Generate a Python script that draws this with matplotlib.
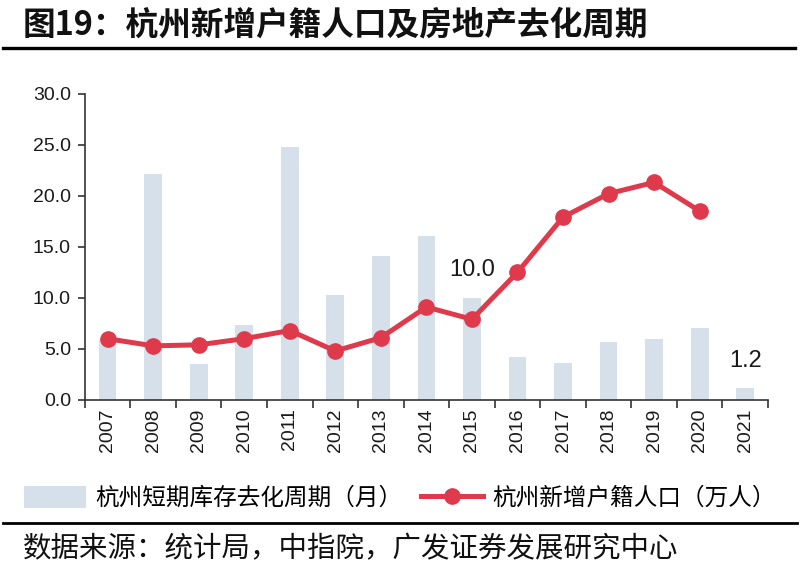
import matplotlib
matplotlib.use("Agg")
import matplotlib.pyplot as plt
from matplotlib.lines import Line2D
from matplotlib.patches import Patch
import numpy as np

years = ["2007", "2008", "2009", "2010", "2011", "2012", "2013", "2014",
         "2015", "2016", "2017", "2018", "2019", "2020", "2021"]
destock_months = [5.9, 22.1, 3.5, 7.3, 24.8, 10.3, 14.1, 16.1,
                  10.0, 4.2, 3.6, 5.7, 6.0, 7.0, 1.2]
new_hukou = [6.0, 5.3, 5.4, 6.0, 6.8, 4.8, 6.1, 9.1,
             7.9, 12.5, 17.9, 20.2, 21.3, 18.5]
yticks = [0, 5, 10, 15, 20, 25, 30]

title = "图19：杭州新增户籍人口及房地产去化周期"
bar_label = "杭州短期库存去化周期（月）"
line_label = "杭州新增户籍人口（万人）"
source = "数据来源：统计局，中指院，广发证券发展研究中心"

CJK = ["Noto Sans CJK SC", "DejaVu Sans"]
NUM = ["Liberation Sans", "Noto Sans CJK SC"]
plt.rcParams["font.family"] = NUM

bar_color = "#D5E0EB"
line_color = "#DF3A4B"

fig = plt.figure(figsize=(8.0, 5.72), dpi=100)
ax = fig.add_axes([0.106, 0.3007, 0.854, 0.5358])

x = np.arange(len(years))
ax.bar(x, destock_months, width=0.39, color=bar_color, zorder=1)
ax.plot(x[:len(new_hukou)], new_hukou, color=line_color, lw=3.6,
        marker="o", markersize=11, markeredgecolor=line_color, zorder=3)

ax.set_xlim(-0.5, len(years) - 0.5)
ax.set_ylim(0, 30)
ax.set_yticks(yticks)
ax.set_yticklabels([f"{v:.1f}" for v in yticks], fontsize=14, color="#1a1a1a")
ax.set_xticks(x)
ax.set_xticklabels(years, rotation=90, fontsize=14, color="#1a1a1a")
ax.set_xticks(np.arange(-0.5, len(years)), minor=True)
ax.tick_params(axis="x", which="major", length=0, pad=6)
ax.tick_params(axis="x", which="minor", length=6, width=1.2, color="#333333", direction="out")
ax.tick_params(axis="y", length=5, width=1.2, color="#333333", direction="out", pad=5)
for s in ["top", "right"]:
    ax.spines[s].set_visible(False)
for s in ["left", "bottom"]:
    ax.spines[s].set_color("#333333")
    ax.spines[s].set_linewidth(1.2)

# data labels
ax.annotate(f"{destock_months[8]:.1f}", (x[8], destock_months[8]), xytext=(0, 12),
            textcoords="offset points", ha="center", va="bottom", fontsize=17, color="#1a1a1a")
ax.annotate(f"{destock_months[14]:.1f}", (x[14], destock_months[14]), xytext=(0, 11),
            textcoords="offset points", ha="center", va="bottom", fontsize=17, color="#1a1a1a")

# title and rules
fig.text(0.028, 0.957, title, fontsize=23.5, fontweight="bold", family=CJK,
         ha="left", va="center", color="#111111")
fig.add_artist(Line2D([0.004, 0.994], [0.916, 0.916], color="black", lw=2.4))
fig.add_artist(Line2D([0.004, 0.996], [0.086, 0.086], color="black", lw=2.0))

handles = [Patch(facecolor=bar_color, edgecolor="none"),
           Line2D([], [], color=line_color, lw=3.6, marker="o", markersize=11)]
fig.legend(handles, [bar_label, line_label], loc="center", bbox_to_anchor=(0.5, 0.129),
           ncol=2, frameon=False, prop={"family": CJK, "size": 17},
           handlelength=2.6, handleheight=1.0, columnspacing=0.8, handletextpad=0.4)

fig.text(0.028, 0.04, source, fontsize=20.5, family=CJK, ha="left", va="center", color="#111111")

fig.savefig("out.png", dpi=100)
